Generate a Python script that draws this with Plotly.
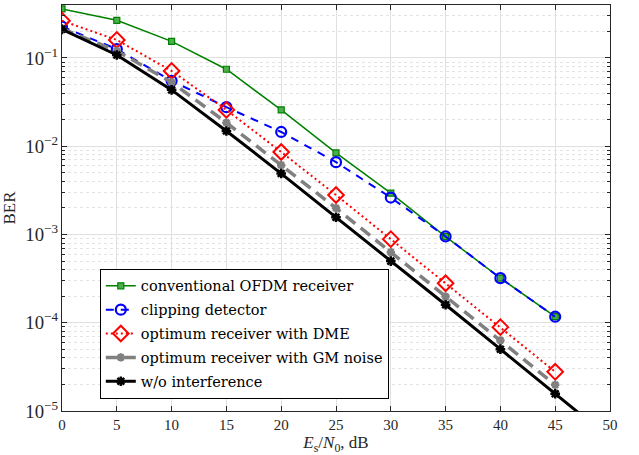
import plotly.graph_objects as go

snr = [0, 5, 10, 15, 20, 25, 30, 35, 40, 45]
snr_black = [0, 5, 10, 15, 20, 25, 30, 35, 40, 45, 50]

ber_conv = [0.359, 0.267, 0.154, 0.0745, 0.0258, 0.0084, 0.00294, 0.000946, 0.00032, 0.000117]
ber_clip = [0.226, 0.126, 0.055, 0.0277, 0.0145, 0.0066, 0.00262, 0.00095, 0.00032, 0.000117]
ber_dme = [0.264, 0.16, 0.0713, 0.0258, 0.0086, 0.0028, 0.000885, 0.00028, 0.0000891, 0.0000278]
ber_gm = [0.215, 0.12, 0.053, 0.0185, 0.0061, 0.00199, 0.00063, 0.000198, 0.000063, 0.0000198]
ber_none = [0.211, 0.108, 0.0435, 0.0149, 0.0049, 0.00157, 0.000499, 0.00016, 0.0000502, 0.0000157, 0.0000049]

names = ["conventional OFDM receiver", "clipping detector", "optimum receiver with DME",
         "optimum receiver with GM noise", "w/o interference"]

FONT = "Liberation Serif"
LEGFONT = "DejaVu Serif"
fig = go.Figure()

fig.add_trace(go.Scatter(x=snr, y=ber_conv, name=names[0], mode="lines+markers",
                         line=dict(color="#008000", width=1.5),
                         marker=dict(symbol="square", size=6, color="#4caf4c",
                                     line=dict(color="#008000", width=1.2)),
                         legendgroup="a"))
fig.add_trace(go.Scatter(x=snr, y=ber_clip, name=names[1], mode="lines+markers",
                         line=dict(color="#0000ff", width=2, dash="8px,7px"),
                         marker=dict(symbol="circle-open", size=10,
                                     line=dict(color="#0000ff", width=2.2)),
                         legendgroup="b"))
fig.add_trace(go.Scatter(x=snr, y=ber_dme, name=names[2], mode="lines+markers",
                         line=dict(color="#ff0000", width=2, dash="2px,3px"),
                         marker=dict(symbol="diamond-open", size=12,
                                     line=dict(color="#ff0000", width=2)),
                         legendgroup="c"))
fig.add_trace(go.Scatter(x=snr, y=ber_gm, name=names[3], mode="lines+markers",
                         line=dict(color="#808080", width=3.5, dash="12px,7px"),
                         marker=dict(symbol="asterisk-open", size=7,
                                     line=dict(color="#808080", width=2.5)),
                         legendgroup="d"))
fig.add_trace(go.Scatter(x=snr_black, y=ber_none, name=names[4], mode="lines+markers",
                         line=dict(color="#000000", width=3),
                         marker=dict(symbol="asterisk-open", size=8,
                                     line=dict(color="#000000", width=2.5)),
                         legendgroup="e"))

axis_common = dict(
    showline=True, linecolor="#262626", linewidth=1, mirror="ticks",
    ticks="inside", ticklen=5, tickcolor="#262626",
    showgrid=True, gridcolor="#e0e0e0", gridwidth=1,
    tickfont=dict(family=FONT, size=15, color="#262626"),
    zeroline=False,
)

fig.update_xaxes(
    range=[0, 50], dtick=5, tick0=0,
    title=dict(text="<i>E</i><sub>s</sub>/<i>N</i><sub>0</sub>, dB",
               font=dict(family=FONT, size=17, color="#262626"), standoff=3),
    **axis_common,
)
fig.update_yaxes(
    type="log", range=[-5, -0.4], dtick=1, exponentformat="power",
    title=dict(text="BER", font=dict(family=FONT, size=17, color="#262626"), standoff=6),
    minor=dict(showgrid=True, gridcolor="#e3e3e3", griddash="dot", ticks="inside",
               ticklen=3, tickcolor="#262626"),
    **axis_common,
)

fig.update_layout(
    width=639, height=455,
    margin=dict(l=62, r=29, t=5, b=44),
    plot_bgcolor="white", paper_bgcolor="white",
    font=dict(family=FONT, size=16, color="#000000"),
    legend=dict(x=0.069, y=0.35, xanchor="left", yanchor="top",
                bgcolor="white", bordercolor="#000000", borderwidth=1,
                font=dict(family=LEGFONT, size=14.5, color="#000000"),
                tracegroupgap=2, traceorder="grouped", itemwidth=30),
    showlegend=True,
)

fig.write_html("out.html")
